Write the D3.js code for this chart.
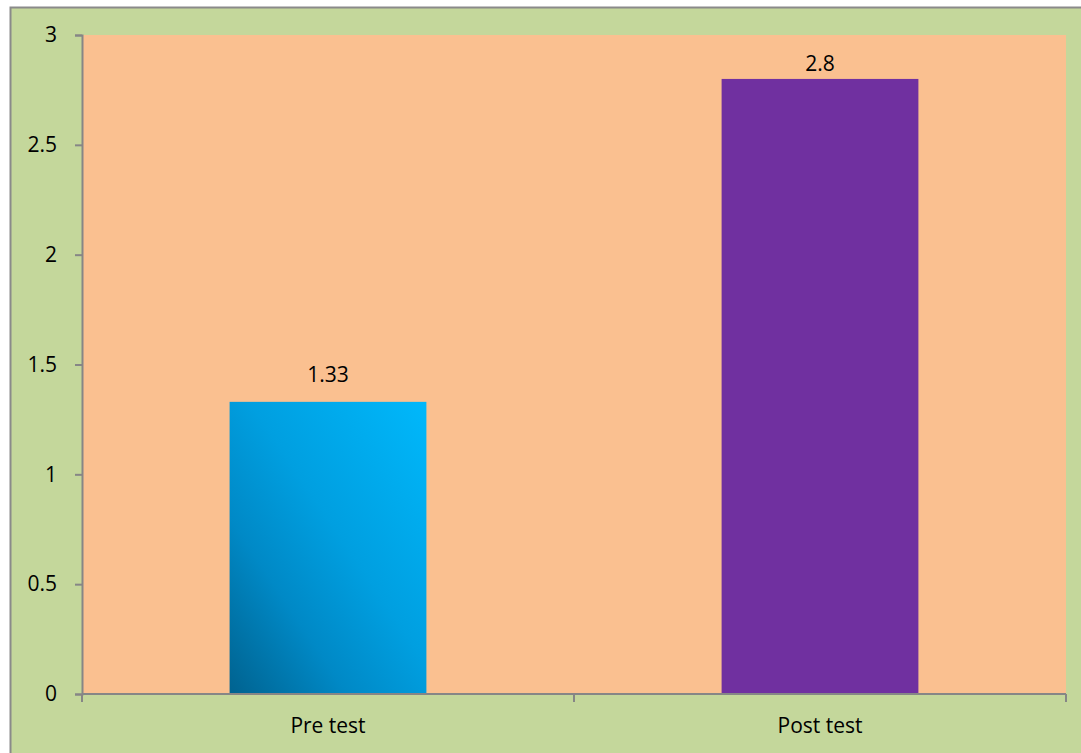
<!DOCTYPE html>
<html>
<head>
<meta charset="utf-8">
<script src="https://cdn.jsdelivr.net/npm/d3@7"></script>
<style>
  body { margin: 0; background: #fff; }
  svg { display: block; font-family: "Open Sans", "Liberation Sans", sans-serif; }
</style>
</head>
<body>
<svg id="chart" width="1081" height="753"></svg>
<script>
// chart values
const categories = ["Pre test", "Post test"];
const values = [1.33, 2.8];
const valueLabels = ["1.33", "2.8"];
const yTicks = [0, 0.5, 1, 1.5, 2, 2.5, 3];

const svg = d3.select("#chart");
const width = +svg.attr("width");
const height = +svg.attr("height");
const fontSize = 21;

// plot box
const plotLeft = 82, plotRight = 1066, plotTop = 35, plotBottom = 694;

// outer chart area
svg.append("rect")
  .attr("x", 10.5).attr("y", 7.5)
  .attr("width", width).attr("height", height)
  .attr("fill", "#c4d79b")
  .attr("stroke", "#8a8a8a")
  .attr("stroke-width", 2);

// gradient for first bar
const defs = svg.append("defs");
const grad = defs.append("linearGradient")
  .attr("id", "blueGrad")
  .attr("x1", "0").attr("y1", "1")
  .attr("x2", "1").attr("y2", "0");
grad.append("stop").attr("offset", "0%").attr("stop-color", "#00628f");
grad.append("stop").attr("offset", "30%").attr("stop-color", "#0089c6");
grad.append("stop").attr("offset", "55%").attr("stop-color", "#009fe0");
grad.append("stop").attr("offset", "100%").attr("stop-color", "#00b8fb");

const x = d3.scaleBand()
  .domain(categories)
  .range([plotLeft, plotRight])
  .paddingInner(0.6)
  .paddingOuter(0.3);

const y = d3.scaleLinear()
  .domain([0, 3])
  .range([plotBottom, plotTop]);

// plot background
svg.append("rect")
  .attr("x", plotLeft).attr("y", plotTop)
  .attr("width", plotRight - plotLeft).attr("height", plotBottom - plotTop)
  .attr("fill", "#fac090");

const barFill = ["url(#blueGrad)", "#7030a0"];

svg.append("g")
  .selectAll("rect")
  .data(values)
  .join("rect")
  .attr("x", (d, i) => x(categories[i]))
  .attr("y", d => y(d))
  .attr("width", x.bandwidth())
  .attr("height", d => y(0) - y(d))
  .attr("fill", (d, i) => barFill[i]);

// value labels (kept inside the plot box near the top)
svg.append("g")
  .selectAll("text")
  .data(values)
  .join("text")
  .attr("x", (d, i) => x(categories[i]) + x.bandwidth() / 2)
  .attr("y", d => Math.max(y(d) - 20, plotTop + 36))
  .attr("text-anchor", "middle")
  .attr("font-size", fontSize)
  .attr("fill", "#000")
  .text((d, i) => valueLabels[i]);

// y axis
const yAxis = svg.append("g")
  .attr("transform", `translate(${plotLeft},0)`)
  .call(d3.axisLeft(y).tickValues(yTicks).tickSize(7).tickPadding(18)
    .tickFormat(d3.format("")));
yAxis.select(".domain").attr("stroke", "#868686").attr("stroke-width", 2);
yAxis.selectAll(".tick line").attr("stroke", "#868686").attr("stroke-width", 2);
yAxis.selectAll(".tick text")
  .attr("font-size", fontSize)
  .attr("font-family", "'Open Sans', 'Liberation Sans', sans-serif")
  .attr("fill", "#000");

// x axis with boundary ticks between categories
const xAxisG = svg.append("g").attr("transform", `translate(0,${plotBottom})`);
xAxisG.append("line")
  .attr("x1", plotLeft).attr("x2", plotRight)
  .attr("stroke", "#868686").attr("stroke-width", 2);
const step = (plotRight - plotLeft) / categories.length;
const boundaries = d3.range(categories.length + 1).map(i => plotLeft + i * step);
xAxisG.selectAll(".btick")
  .data(boundaries)
  .join("line")
  .attr("x1", d => d).attr("x2", d => d)
  .attr("y1", 0).attr("y2", 8)
  .attr("stroke", "#868686").attr("stroke-width", 2);
xAxisG.selectAll(".xlabel")
  .data(categories)
  .join("text")
  .attr("x", d => x(d) + x.bandwidth() / 2)
  .attr("y", 39)
  .attr("text-anchor", "middle")
  .attr("font-size", fontSize)
  .attr("fill", "#000")
  .text(d => d);
</script>
</body>
</html>
